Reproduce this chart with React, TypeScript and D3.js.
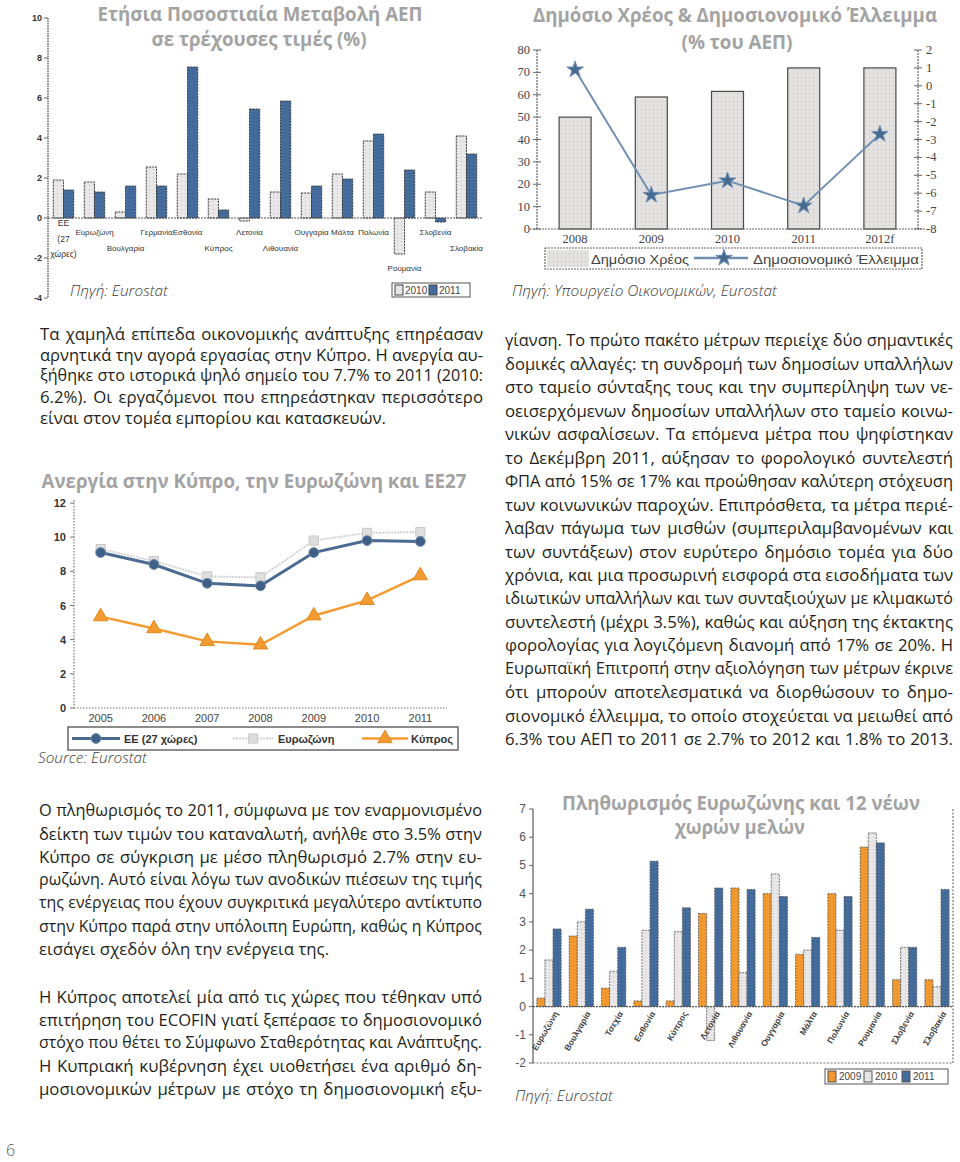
import React, { useRef, useLayoutEffect } from 'react';
import * as d3 from 'd3';

// ---------- Chart 1: GDP change ----------
const gdpCountries = ['ΕΕ (27 χώρες)', 'Ευρωζώνη', 'Βουλγαρία', 'Γερμανία', 'Εσθονία', 'Κύπρος', 'Λετονία', 'Λιθουανία', 'Ουγγαρία', 'Μάλτα', 'Πολωνία', 'Ρουμανία', 'Σλοβενία', 'Σλοβακία'];
const gdpSeries = ['2010', '2011'];
const gdp2010 = [1.9, 1.8, 0.3, 2.55, 2.2, 0.95, -0.15, 1.3, 1.25, 2.2, 3.85, -1.8, 1.3, 4.1];
const gdp2011 = [1.4, 1.3, 1.6, 1.6, 7.55, 0.4, 5.45, 5.85, 1.6, 1.95, 4.2, 2.4, -0.2, 3.2];
const gdpTicks = [-4, -2, 0, 2, 4, 6, 8, 10];

// ---------- Chart 2: debt & deficit ----------
const debtYears = ['2008', '2009', '2010', '2011', '2012f'];
const debtValues = [50, 59, 61.5, 72, 72];
const deficitValues = [0.9, -6.1, -5.3, -6.7, -2.7];
const debtTicks = [0, 10, 20, 30, 40, 50, 60, 70, 80];
const deficitTicks = [-8, -7, -6, -5, -4, -3, -2, -1, 0, 1, 2];

// ---------- Chart 3: unemployment ----------
const unempYears = ['2005', '2006', '2007', '2008', '2009', '2010', '2011'];
const unempEU27 = [9.1, 8.4, 7.3, 7.15, 9.1, 9.8, 9.75];
const unempEZ = [9.3, 8.6, 7.7, 7.65, 9.8, 10.25, 10.3];
const unempCY = [5.35, 4.65, 3.9, 3.7, 5.4, 6.3, 7.75];
const unempTicks = [0, 2, 4, 6, 8, 10, 12];

// ---------- Chart 4: inflation ----------
const inflCountries = ['Ευρωζώνη', 'Βουλγαρία', 'Τσεχία', 'Εσθονία', 'Κύπρος', 'Λετονία', 'Λιθουανία', 'Ουγγαρία', 'Μάλτα', 'Πολωνία', 'Ρουμανία', 'Σλοβενία', 'Σλοβακία'];
const inflSeries = ['2009', '2010', '2011'];
const infl2009 = [0.3, 2.5, 0.65, 0.2, 0.2, 3.3, 4.2, 4.0, 1.85, 4.0, 5.65, 0.95, 0.95];
const infl2010 = [1.65, 3.0, 1.25, 2.7, 2.65, -1.2, 1.2, 4.7, 2.0, 2.7, 6.15, 2.1, 0.7];
const infl2011 = [2.75, 3.45, 2.1, 5.15, 3.5, 4.2, 4.15, 3.9, 2.45, 3.9, 5.8, 2.1, 4.15];
const inflTicks = [-2, -1, 0, 1, 2, 3, 4, 5, 6, 7];

// ---------- Text ----------
const paraA = [
  'Τα χαμηλά επίπεδα οικονομικής ανάπτυξης επηρέασαν',
  'αρνητικά την αγορά εργασίας στην Κύπρο. Η ανεργία αυ-',
  'ξήθηκε στο ιστορικά ψηλό σημείο του 7.7% το 2011 (2010:',
  '6.2%). Οι εργαζόμενοι που επηρεάστηκαν περισσότερο',
  'είναι στον τομέα εμπορίου και κατασκευών.',
];
const paraRight = [
  'γίανση. Το πρώτο πακέτο μέτρων περιείχε δύο σημαντικές',
  'δομικές αλλαγές: τη συνδρομή των δημοσίων υπαλλήλων',
  'στο ταμείο σύνταξης τους και την συμπερίληψη των νε-',
  'οεισερχόμενων δημοσίων υπαλλήλων στο ταμείο κοινω-',
  'νικών ασφαλίσεων. Τα επόμενα μέτρα που ψηφίστηκαν',
  'το Δεκέμβρη 2011, αύξησαν το φορολογικό συντελεστή',
  'ΦΠΑ από 15% σε 17% και προώθησαν καλύτερη στόχευση',
  'των κοινωνικών παροχών. Επιπρόσθετα, τα μέτρα περιέ-',
  'λαβαν πάγωμα των μισθών (συμπεριλαμβανομένων και',
  'των συντάξεων) στον ευρύτερο δημόσιο τομέα για δύο',
  'χρόνια, και μια προσωρινή εισφορά στα εισοδήματα των',
  'ιδιωτικών υπαλλήλων και των συνταξιούχων με κλιμακωτό',
  'συντελεστή (μέχρι 3.5%), καθώς και αύξηση της έκτακτης',
  'φορολογίας για λογιζόμενη διανομή από 17% σε 20%. Η',
  'Ευρωπαϊκή Επιτροπή στην αξιολόγηση των μέτρων έκρινε',
  'ότι μπορούν αποτελεσματικά να διορθώσουν το δημο-',
  'σιονομικό έλλειμμα, το οποίο στοχεύεται να μειωθεί από',
  '6.3% του ΑΕΠ το 2011 σε 2.7% το 2012 και 1.8% το 2013.',
];
const paraB = [
  'Ο πληθωρισμός το 2011, σύμφωνα με τον εναρμονισμένο',
  'δείκτη των τιμών του καταναλωτή, ανήλθε στο 3.5% στην',
  'Κύπρο σε σύγκριση με μέσο πληθωρισμό 2.7% στην ευ-',
  'ρωζώνη. Αυτό είναι λόγω των ανοδικών πιέσεων της τιμής',
  'της ενέργειας που έχουν συγκριτικά μεγαλύτερο αντίκτυπο',
  'στην Κύπρο παρά στην υπόλοιπη Ευρώπη, καθώς η Κύπρος',
  'εισάγει σχεδόν όλη την ενέργεια της.',
];
const paraC = [
  'Η Κύπρος αποτελεί μία από τις χώρες που τέθηκαν υπό',
  'επιτήρηση του ECOFIN γιατί ξεπέρασε το δημοσιονομικό',
  'στόχο που θέτει το Σύμφωνο Σταθερότητας και Ανάπτυξης.',
  'Η Κυπριακή κυβέρνηση έχει υιοθετήσει ένα αριθμό δη-',
  'μοσιονομικών μέτρων με στόχο τη δημοσιονομική εξυ-',
];

const BODY_FONT = "'Open Sans', 'Noto Sans', sans-serif";
const TITLE_FONT = "'Open Sans', 'Noto Sans', sans-serif";
const AXIS_FONT = "'Liberation Sans', Arial, sans-serif";
const TITLE_COLOR = '#a3a3a3';
const BODY_SIZE = 16.8;

function JLine({ x, y, width, text, justify, size }: any) {
  const ref = useRef<SVGTextElement>(null);
  useLayoutEffect(() => {
    const el = ref.current;
    if (!el) return;
    el.style.wordSpacing = '0px';
    el.style.fontSize = size + 'px';
    let w = el.getComputedTextLength();
    if (w > width) {
      // shrink the font so the line fits its column
      el.style.fontSize = (size * width) / w - 0.05 + 'px';
      w = el.getComputedTextLength();
    }
    if (!justify) return;
    const spaces = (text.match(/ /g) || []).length;
    if (w < width && spaces > 0) {
      el.style.wordSpacing = (width - w) / spaces + 'px';
    }
  }, [text, width, justify, size]);
  return (
    <text ref={ref} x={x} y={y} fontFamily={BODY_FONT} fontSize={size} fill="#231f20" dominantBaseline="central">
      {text}
    </text>
  );
}

function Para({ lines, x, y0, step, width, lastJustified }: any) {
  return (
    <g>
      {lines.map((t: string, i: number) => (
        <JLine key={i} x={x} y={y0 + i * step} width={width} text={t} size={BODY_SIZE}
          justify={i < lines.length - 1 || lastJustified} />
      ))}
    </g>
  );
}

function Title({ text, cx, cy, width, size }: any) {
  return (
    <text x={cx} y={cy} textAnchor="middle" dominantBaseline="central" fontFamily={TITLE_FONT}
      fontWeight="bold" fontSize={size || 19} fill={TITLE_COLOR} textLength={width} lengthAdjust="spacingAndGlyphs">
      {text}
    </text>
  );
}

function Source({ text, x, y, width }: any) {
  return (
    <text x={x} y={y} dominantBaseline="central" fontFamily={BODY_FONT} fontStyle="italic" fontWeight={300}
      fontSize={15} fill="#3a3a3a" textLength={width} lengthAdjust="spacingAndGlyphs">
      {text}
    </text>
  );
}

function Defs() {
  const pat = (id: string, bg: string, dot: string) => (
    <pattern id={id} width={4} height={4} patternUnits="userSpaceOnUse">
      <rect width={4} height={4} fill={bg} />
      <rect x={1} y={1} width={1} height={1} fill={dot} />
    </pattern>
  );
  return (
    <defs>
      {pat('pLight', '#e9e7e7', '#c4c2c2')}
      {pat('pBlue', '#446d9d', '#2f547f')}
      {pat('pOrange', '#f29a2f', '#d97f18')}
      {pat('pDebt', '#e4e1e1', '#bdbaba')}
    </defs>
  );
}

function GdpChart() {
  const x = d3.scaleBand().domain(gdpCountries).range([48, 482]).paddingInner(0.34).paddingOuter(0.17);
  const xs = d3.scaleBand().domain(gdpSeries).range([0, x.bandwidth()]);
  const y = d3.scaleLinear().domain([-4, 10]).range([298, 18]);
  const fills = ['url(#pLight)', 'url(#pBlue)'];
  const series = [gdp2010, gdp2011];
  const rowY = [232, 248, 268];
  const labelRow = [0, 0, 1, 0, 0, 1, 0, 1, 0, 0, 0, 2, 0, 1];
  return (
    <g>
      <Title text="Ετήσια Ποσοστιαία Μεταβολή ΑΕΠ" cx={260} cy={14} width={325} />
      <Title text="σε τρέχουσες τιμές (%)" cx={259} cy={39} width={215} />
      <line x1={48} x2={48} y1={y(10)} y2={y(-4)} stroke="#666" strokeWidth={1.5} strokeDasharray="1.5,1" />
      {gdpTicks.map((t) => (
        <g key={t}>
          <line x1={44} x2={48} y1={y(t)} y2={y(t)} stroke="#666" />
          <text x={42} y={y(t)} textAnchor="end" dominantBaseline="central" fontFamily={AXIS_FONT} fontWeight="bold" fontSize={9} fill="#333">{t}</text>
        </g>
      ))}
      {series.map((vals, si) =>
        vals.map((v, i) => {
          const x0 = (x(gdpCountries[i]) as number) + (xs(gdpSeries[si]) as number);
          return (
            <rect key={si + '-' + i} x={x0} y={Math.min(y(v), y(0))} width={xs.bandwidth()} height={Math.abs(y(v) - y(0))}
              fill={fills[si]} stroke="#3a3a3a" strokeWidth={1} strokeDasharray="2,1" />
          );
        })
      )}
      <line x1={48} x2={482} y1={y(0)} y2={y(0)} stroke="#555" strokeWidth={1.2} strokeDasharray="2,1" />
      {gdpCountries.map((c, i) => {
        const cx = (x(c) as number) + x.bandwidth() / 2;
        const parts = c.split(' ');
        if (parts.length > 1) {
          return (
            <g key={c}>
              {parts.map((p, k) => (
                <text key={k} x={cx} y={223 + k * 15.5} textAnchor="middle" dominantBaseline="central" fontFamily={AXIS_FONT} fontSize={8.5} fill="#333">{p}</text>
              ))}
            </g>
          );
        }
        return (
          <text key={c} x={cx} y={rowY[labelRow[i]]} textAnchor="middle" dominantBaseline="central" fontFamily={AXIS_FONT} fontSize={8} fill="#333">{c}</text>
        );
      })}
      <rect x={392} y={283} width={78} height={14} fill="#fff" stroke="#555" strokeWidth={1} />
      <rect x={395} y={285} width={8} height={10} fill="url(#pLight)" stroke="#444" />
      <text x={405} y={290} dominantBaseline="central" fontFamily={AXIS_FONT} fontSize={10} fill="#444">{gdpSeries[0]}</text>
      <rect x={429} y={285} width={8} height={10} fill="url(#pBlue)" stroke="#444" />
      <text x={439} y={290} dominantBaseline="central" fontFamily={AXIS_FONT} fontSize={10} fill="#444">{gdpSeries[1]}</text>
      <Source text="Πηγή: Eurostat" x={70} y={290} width={98} />
    </g>
  );
}

function DebtChart() {
  const x = d3.scaleBand().domain(debtYears).range([537, 918]).paddingInner(0.58).paddingOuter(0.29);
  const yL = d3.scaleLinear().domain([0, 80]).range([229, 50]);
  const yR = d3.scaleLinear().domain([-8, 2]).range([229, 50]);
  const cx = (d: string) => (x(d) as number) + x.bandwidth() / 2;
  const line = d3.line<number>().x((_, i) => cx(debtYears[i])).y((v) => yR(v));
  const star = d3.symbol().type(d3.symbolStar).size(85)() as string;
  return (
    <g>
      <Title text="Δημόσιο Χρέος & Δημοσιονομικό Έλλειμμα" cx={735} cy={15} width={404} />
      <Title text="(% του ΑΕΠ)" cx={737} cy={42} width={111} />
      {debtValues.map((v, i) => (
        <rect key={i} x={x(debtYears[i])} y={yL(v)} width={x.bandwidth()} height={yL(0) - yL(v)}
          fill="url(#pDebt)" stroke="#4a4a4a" strokeWidth={1.2} />
      ))}
      <line x1={537} x2={537} y1={50} y2={229} stroke="#666" strokeWidth={1.2} strokeDasharray="2,1" />
      <line x1={918} x2={918} y1={50} y2={229} stroke="#666" strokeWidth={1.2} strokeDasharray="2,1" />
      <line x1={530} x2={925} y1={229} y2={229} stroke="#666" strokeWidth={1.2} strokeDasharray="2,1" />
      {debtTicks.map((t) => (
        <g key={t}>
          <line x1={533} x2={541} y1={yL(t)} y2={yL(t)} stroke="#666" />
          <text x={530} y={yL(t)} textAnchor="end" dominantBaseline="central" fontFamily="'Liberation Serif', serif" fontSize={12.5} fill="#444">{t}</text>
        </g>
      ))}
      {deficitTicks.map((t) => (
        <g key={t}>
          <line x1={914} x2={922} y1={yR(t)} y2={yR(t)} stroke="#666" />
          <text x={926} y={yR(t)} dominantBaseline="central" fontFamily="'Liberation Serif', serif" fontSize={12.5} fill="#444">{t}</text>
        </g>
      ))}
      {debtYears.map((d) => (
        <text key={d} x={cx(d)} y={239} textAnchor="middle" dominantBaseline="central" fontFamily="'Liberation Serif', serif" fontSize={12.5} fill="#444">{d}</text>
      ))}
      <path d={line(deficitValues) as string} fill="none" stroke="#6f8fb3" strokeWidth={2} />
      {deficitValues.map((v, i) => (
        <path key={i} d={star} transform={`translate(${cx(debtYears[i])},${yR(v)})`} fill="#46698f" stroke="#6f8fb3" strokeWidth={1} />
      ))}
      <rect x={545} y={248} width={377} height={21} fill="#fff" stroke="#666" strokeWidth={1.2} strokeDasharray="2,1" />
      <rect x={547} y={250} width={42} height={17} fill="url(#pDebt)" />
      <text x={591} y={259} dominantBaseline="central" fontFamily={AXIS_FONT} fontSize={13} fill="#444" textLength={98} lengthAdjust="spacingAndGlyphs">Δημόσιο Χρέος</text>
      <line x1={694} x2={748} y1={258} y2={258} stroke="#6f8fb3" strokeWidth={2.5} />
      <path d={star} transform="translate(724,258)" fill="#46698f" stroke="#6f8fb3" />
      <text x={753} y={259} dominantBaseline="central" fontFamily={AXIS_FONT} fontSize={13} fill="#444" textLength={166} lengthAdjust="spacingAndGlyphs">Δημοσιονομικό Έλλειμμα</text>
      <Source text="Πηγή: Υπουργείο Οικονομικών, Eurostat" x={512} y={290} width={265} />
    </g>
  );
}

function UnempChart() {
  const x = d3.scaleBand().domain(unempYears).range([74, 447]).padding(0);
  const y = d3.scaleLinear().domain([0, 12]).range([708, 503]);
  const cx = (d: string) => (x(d) as number) + x.bandwidth() / 2;
  const line = d3.line<number>().x((_, i) => cx(unempYears[i])).y((v) => y(v));
  const circle = d3.symbol().type(d3.symbolCircle).size(75)() as string;
  const square = d3.symbol().type(d3.symbolSquare).size(85)() as string;
  const tri = d3.symbol().type(d3.symbolTriangle).size(90)() as string;
  const blue = '#4a6a91';
  const grey = '#d2d2d2';
  const orange = '#f39b30';
  return (
    <g>
      <Title text="Ανεργία στην Κύπρο, την Ευρωζώνη και ΕΕ27" cx={254} cy={481} width={425} />
      <line x1={74} x2={74} y1={500} y2={708} stroke="#777" strokeWidth={1.2} strokeDasharray="1.5,1.5" />
      <line x1={74} x2={447} y1={708} y2={708} stroke="#777" strokeWidth={1.2} strokeDasharray="1.5,1.5" />
      {unempTicks.map((t) => (
        <g key={t}>
          <line x1={70} x2={74} y1={y(t)} y2={y(t)} stroke="#777" />
          <text x={66} y={y(t)} textAnchor="end" dominantBaseline="central" fontFamily={AXIS_FONT} fontWeight="bold" fontSize={11} fill="#333">{t}</text>
        </g>
      ))}
      {unempYears.map((d) => (
        <text key={d} x={cx(d)} y={718} textAnchor="middle" dominantBaseline="central" fontFamily={AXIS_FONT} fontSize={11} fill="#444">{d}</text>
      ))}
      <path d={line(unempEZ) as string} fill="none" stroke={grey} strokeWidth={2} strokeDasharray="2,1" />
      {unempEZ.map((v, i) => (
        <path key={i} d={square} transform={`translate(${cx(unempYears[i])},${y(v)})`} fill="#dedede" stroke="#c8c8c8" />
      ))}
      <path d={line(unempEU27) as string} fill="none" stroke={blue} strokeWidth={3} />
      {unempEU27.map((v, i) => (
        <path key={i} d={circle} transform={`translate(${cx(unempYears[i])},${y(v)})`} fill="#3f5f87" stroke="#6c87a8" />
      ))}
      <path d={line(unempCY) as string} fill="none" stroke={orange} strokeWidth={2.5} />
      {unempCY.map((v, i) => (
        <path key={i} d={tri} transform={`translate(${cx(unempYears[i])},${y(v)})`} fill={orange} stroke="#e08a20" />
      ))}
      <rect x={68} y={727} width={390} height={23} fill="#fff" stroke="#666" strokeWidth={1.5} />
      <line x1={72} x2={120} y1={738.5} y2={738.5} stroke={blue} strokeWidth={3} />
      <path d={circle} transform="translate(96,738.5)" fill="#3f5f87" stroke="#6c87a8" />
      <text x={124} y={739} dominantBaseline="central" fontFamily={AXIS_FONT} fontWeight="bold" fontSize={11} fill="#333">ΕΕ (27 χώρες)</text>
      <line x1={233} x2={273} y1={738.5} y2={738.5} stroke={grey} strokeWidth={2} strokeDasharray="2,1" />
      <path d={square} transform="translate(253,738.5)" fill="#dedede" stroke="#c8c8c8" />
      <text x={278} y={739} dominantBaseline="central" fontFamily={AXIS_FONT} fontWeight="bold" fontSize={11} fill="#333">Ευρωζώνη</text>
      <line x1={362} x2={408} y1={738.5} y2={738.5} stroke={orange} strokeWidth={2.5} />
      <path d={tri} transform="translate(385,738.5)" fill={orange} stroke="#e08a20" />
      <text x={411} y={739} dominantBaseline="central" fontFamily={AXIS_FONT} fontWeight="bold" fontSize={11} fill="#333">Κύπρος</text>
      <Source text="Source: Eurostat" x={38} y={757} width={109} />
    </g>
  );
}

function InflChart() {
  const x = d3.scaleBand().domain(inflCountries).range([533, 953]).paddingInner(0.25).paddingOuter(0.12);
  const xs = d3.scaleBand().domain(inflSeries).range([0, x.bandwidth()]);
  const y = d3.scaleLinear().domain([-2, 7]).range([1063, 809]);
  const series = [infl2009, infl2010, infl2011];
  const fills = ['url(#pOrange)', 'url(#pLight)', 'url(#pBlue)'];
  return (
    <g>
      <Title text="Πληθωρισμός Ευρωζώνης και 12 νέων" cx={741} cy={803} width={358} />
      <Title text="χωρών μελών" cx={740} cy={827} width={130} />
      <line x1={953} x2={953} y1={809} y2={1063} stroke="#777" strokeWidth={1.2} strokeDasharray="2,1.5" />
      <line x1={533} x2={953} y1={1063} y2={1063} stroke="#777" strokeWidth={1.2} strokeDasharray="2,1.5" />
      {series.map((vals, si) =>
        vals.map((v, i) => {
          const x0 = (x(inflCountries[i]) as number) + (xs(inflSeries[si]) as number);
          return (
            <rect key={si + '-' + i} x={x0} y={Math.min(y(v), y(0))} width={xs.bandwidth()} height={Math.abs(y(v) - y(0))}
              fill={fills[si]} stroke="#555" strokeWidth={0.8} strokeDasharray="2,1" />
          );
        })
      )}
      <line x1={533} x2={953} y1={y(0)} y2={y(0)} stroke="#555" strokeWidth={1.2} strokeDasharray="2,1" />
      <line x1={533} x2={533} y1={809} y2={1063} stroke="#666" strokeWidth={1.3} />
      {inflTicks.map((t) => (
        <g key={t}>
          <line x1={529} x2={533} y1={y(t)} y2={y(t)} stroke="#666" />
          <text x={526} y={y(t)} textAnchor="end" dominantBaseline="central" fontFamily={AXIS_FONT} fontSize={12} fill="#555">{t}</text>
        </g>
      ))}
      {inflCountries.map((c) => {
        const cx = (x(c) as number) + x.bandwidth() / 2;
        return (
          <text key={c} transform={`translate(${cx + 7},${1012}) rotate(-60)`} textAnchor="end" dominantBaseline="central"
            fontFamily={AXIS_FONT} fontWeight="bold" fontSize={8.5} fill="#444">{c}</text>
        );
      })}
      <rect x={825} y={1069} width={123} height={15} fill="#fff" stroke="#555" strokeWidth={1} />
      <rect x={828} y={1071} width={8} height={11} fill="url(#pOrange)" stroke="#555" />
      <text x={839} y={1076.5} dominantBaseline="central" fontFamily={AXIS_FONT} fontSize={10} fill="#444">{inflSeries[0]}</text>
      <rect x={864} y={1071} width={8} height={11} fill="url(#pLight)" stroke="#555" />
      <text x={875} y={1076.5} dominantBaseline="central" fontFamily={AXIS_FONT} fontSize={10} fill="#444">{inflSeries[1]}</text>
      <rect x={902} y={1071} width={8} height={11} fill="url(#pBlue)" stroke="#555" />
      <text x={913} y={1076.5} dominantBaseline="central" fontFamily={AXIS_FONT} fontSize={10} fill="#444">{inflSeries[2]}</text>
      <Source text="Πηγή: Eurostat" x={515} y={1095} width={98} />
    </g>
  );
}

export default function App() {
  return (
    <div style={{ position: 'absolute', left: 0, top: 0, width: 960, height: 1162, background: '#fff' }}>
      <svg width={960} height={1162} viewBox="0 0 960 1162" style={{ display: 'block' }}>
        <Defs />
        <rect width={960} height={1162} fill="#fff" />
        <GdpChart />
        <DebtChart />
        <Para lines={paraA} x={40} y0={333} step={21} width={443} lastJustified={false} />
        <UnempChart />
        <Para lines={paraRight} x={505} y0={340} step={23.45} width={448} lastJustified={true} />
        <Para lines={paraB} x={39} y0={810} step={23.1} width={443} lastJustified={false} />
        <Para lines={paraC} x={39} y0={996} step={23} width={443} lastJustified={true} />
        <InflChart />
        <text x={6} y={1150} dominantBaseline="central" fontFamily={BODY_FONT} fontWeight={300} fontSize={16} fill="#555">6</text>
      </svg>
    </div>
  );
}
